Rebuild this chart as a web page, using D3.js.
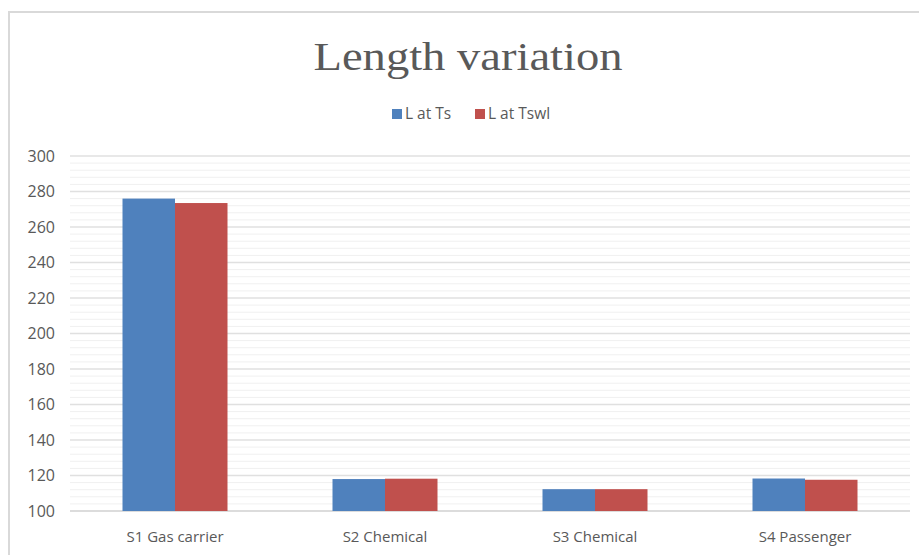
<!DOCTYPE html>
<html>
<head>
<meta charset="utf-8">
<script src="https://cdn.jsdelivr.net/npm/d3@7"></script>
<style>
  body { margin: 0; background: #fff; }
  svg text { font-family: "Open Sans", "Liberation Sans", sans-serif; fill: #595959; }
</style>
</head>
<body>
<div id="chart"></div>
<script>
// Dữ liệu
const categories = ["S1 Gas carrier", "S2 Chemical", "S3 Chemical", "S4 Passenger"];
const seriesNames = ["L at Ts", "L at Tswl"];
const lAtTs = [276, 118, 112.3, 118.3];
const lAtTswl = [273.5, 118.2, 112.3, 117.6];
const yTicks = [100, 120, 140, 160, 180, 200, 220, 240, 260, 280, 300];
const colors = ["#4F81BD", "#C0504D"];

const W = 919, H = 555;
const margin = { top: 156, right: 9, bottom: 44, left: 70 };
const width = W - margin.left - margin.right;
const height = H - margin.top - margin.bottom;

const svg = d3.select("#chart").append("svg")
    .attr("width", W).attr("height", H);

// khung biểu đồ (chỉ thấy cạnh trái và cạnh trên)
svg.append("path")
    .attr("d", `M9,${H} V12 H${W}`)
    .attr("fill", "none").attr("stroke", "#d9d9d9").attr("stroke-width", 2);

// Tiêu đề
svg.append("text")
    .attr("x", 468).attr("y", 70)
    .attr("text-anchor", "middle")
    .attr("textLength", 309).attr("lengthAdjust", "spacingAndGlyphs")
    .style("font-family", "'Liberation Serif', 'DejaVu Serif', serif")
    .style("font-size", "40px")
    .text("Length variation");

const g = svg.append("g").attr("transform", `translate(${margin.left},${margin.top})`);

const x0 = d3.scaleBand().domain(categories).range([0, width]).paddingInner(0.5).paddingOuter(0.25);
const x1 = d3.scaleBand().domain(seriesNames).range([0, x0.bandwidth()]);
const y = d3.scaleLinear().domain([100, 300]).range([height, 0]);

// lưới phụ (mỗi 4 đơn vị)
g.append("g").selectAll("line")
    .data(d3.range(100, 301, 4).filter(v => v % 20 !== 0))
    .join("line")
    .attr("x1", 0).attr("x2", width)
    .attr("y1", d => y(d)).attr("y2", d => y(d))
    .attr("stroke", "#f0f0f0").attr("stroke-width", 1);

// lưới chính
g.append("g").selectAll("line")
    .data(yTicks)
    .join("line")
    .attr("x1", 0).attr("x2", width)
    .attr("y1", d => y(d)).attr("y2", d => y(d))
    .attr("stroke", d => d === 100 ? "#d0d0d0" : "#e0e0e0").attr("stroke-width", 1.3);

// Trục Y
const yAxis = g.append("g")
    .call(d3.axisLeft(y).tickValues(yTicks).tickSize(0).tickPadding(15));
yAxis.select(".domain").remove();
yAxis.selectAll("text").style("font-size", "16px").attr("fill", "#595959");

// Trục X
const xAxis = g.append("g")
    .attr("transform", `translate(0,${height})`)
    .call(d3.axisBottom(x0).tickSize(0).tickPadding(20));
xAxis.select(".domain").remove();
xAxis.selectAll("text").style("font-size", "15px").attr("fill", "#595959");

// Chú giải
const rows = categories.map((c, i) => ({ cat: c, vals: [lAtTs[i], lAtTswl[i]] }));
g.selectAll(".grp")
    .data(rows)
    .join("g")
    .attr("class", "grp")
    .attr("transform", d => `translate(${x0(d.cat)},0)`)
    .selectAll("rect")
    .data(d => d.vals.map((v, k) => ({ key: seriesNames[k], v, k })))
    .join("rect")
    .attr("x", d => x1(d.key))
    .attr("y", d => y(d.v))
    .attr("width", x1.bandwidth())
    .attr("height", d => height - y(d.v))
    .attr("fill", d => colors[d.k]);

const legend = svg.append("g").attr("transform", "translate(392,114)");
const legX = [0, 83];
seriesNames.forEach((s, i) => {
    const lg = legend.append("g").attr("transform", `translate(${legX[i]},0)`);
    lg.append("rect").attr("x", 0).attr("y", -5).attr("width", 10).attr("height", 10).attr("fill", colors[i]);
    lg.append("text").attr("x", 13).attr("y", 0).attr("dy", "0.35em")
        .style("font-size", "15.5px").text(s);
});
</script>
</body>
</html>
